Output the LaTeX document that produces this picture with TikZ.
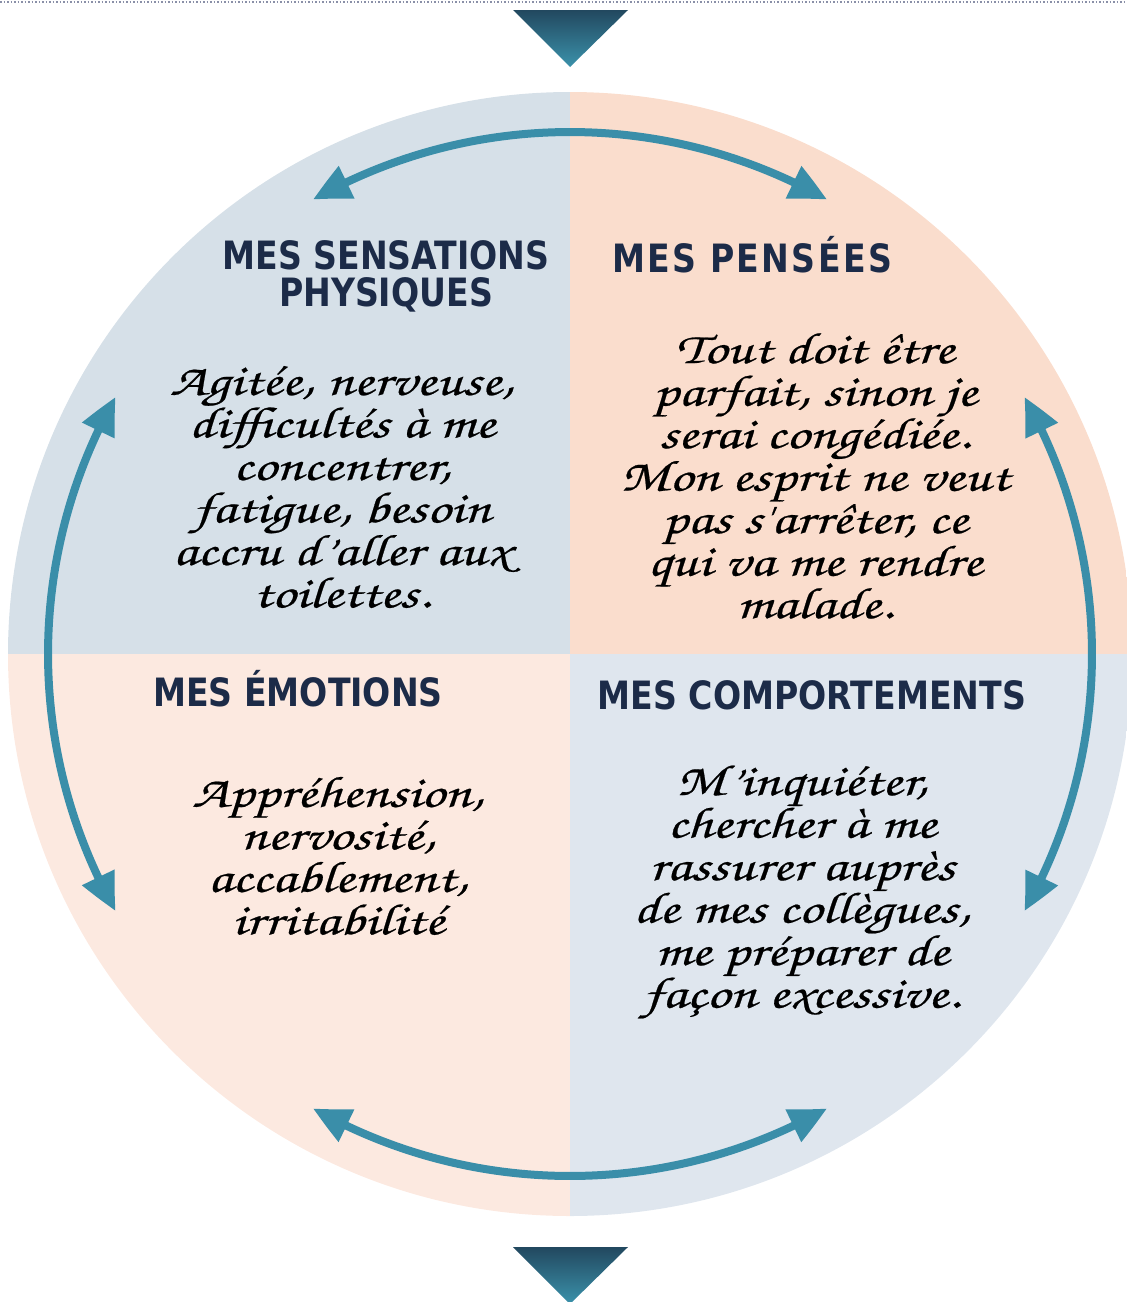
\documentclass[tikz,border=0pt]{standalone}
\usepackage{fontspec}
\usetikzlibrary{arrows.meta,bending,calc}
\newfontfamily\headfont[FakeStretch=0.85]{DejaVu Sans}
\newfontfamily\scr[FakeStretch=1.32,FakeBold=0.5]{texgyrechorus-mediumitalic.otf}
\definecolor{qtl}{HTML}{D6E0E8}
\definecolor{qtr}{HTML}{FADDCD}
\definecolor{qbl}{HTML}{FCE9E0}
\definecolor{qbr}{HTML}{DFE6EE}
\definecolor{arrc}{HTML}{3A8EA9}
\definecolor{headc}{HTML}{1C2B48}
\definecolor{tridark}{HTML}{22485F}
\definecolor{trilight}{HTML}{3B92AB}
\definecolor{dotc}{HTML}{8A90A8}
\tikzset{
  heading/.style={font=\headfont\bfseries\fontsize{39}{39}\selectfont, text=headc, align=center, inner sep=0pt},
  body/.style={font=\scr\fontsize{44}{42.5}\selectfont, text=black, align=center, inner sep=0pt},
  cycarrow/.style={draw=arrc, line width=8pt, {Triangle[length=38pt,width=34pt,bend]}-{Triangle[length=38pt,width=34pt,bend]}},
  tri/.style={top color=tridark, bottom color=trilight}
}
\begin{document}
\begin{tikzpicture}[x=1pt,y=-1pt]
\useasboundingbox (0,0) rectangle (1127,1302);
\coordinate (c) at (570,654);
% dotted top line
\draw[dotc, line width=1.2pt, dash pattern=on 1.5pt off 2pt] (0,2) -- (1127,2);
% quadrants
\begin{scope}
  \clip (0,0) rectangle (1127,1302);
  \clip (c) circle[radius=562];
  \fill[qtl] (0,0) rectangle (c);
  \fill[qtr] (570,0) rectangle (1200,654);
  \fill[qbl] (0,654) rectangle (570,1302);
  \fill[qbr] (570,654) rectangle (1200,1302);
\end{scope}
% triangles
\shade[tri] (513,10) -- (628,10) -- (570,67) -- cycle;
\shade[tri] (513,1247) -- (628,1247) -- (570,1304) -- cycle;
% arrows
\coordinate (a1) at ($(c)+(-119.5:522)$);
\coordinate (a3) at ($(c)+(-29.5:522)$);
\coordinate (a5) at ($(c)+(60.5:522)$);
\coordinate (a7) at ($(c)+(150.5:522)$);
\draw[cycarrow] (a1) arc[start angle=-119.5, end angle=-60.5, radius=522];
\draw[cycarrow] (a3) arc[start angle=-29.5, end angle=29.5, radius=522];
\draw[cycarrow] (a5) arc[start angle=60.5, end angle=119.5, radius=522];
\draw[cycarrow] (a7) arc[start angle=150.5, end angle=209.5, radius=522];
% headings
\node[heading] (h1) at (386,276) {MES SENSATIONS\\[-2pt]PHYSIQUES};
\node[heading, anchor=base] (h2) at (752,272) {\addfontfeature{LetterSpace=6}MES PENSÉES};
\node[heading, anchor=base] (h3) at (298,706) {MES ÉMOTIONS};
\node[heading, anchor=base] (h4) at (812,709) {MES COMPORTEMENTS};
% bodies
\node[body] (b1) at (342,487) {Agitée, nerveuse,\\difficultés à me\\concentrer,\\fatigue, besoin\\accru d’aller aux\\toilettes.};
\node[body] (b2) at (815,476) {Tout doit être\\parfait, sinon je\\serai congédiée.\\Mon esprit ne veut\\pas s'arrêter, ce\\qui va me rendre\\malade.};
\node[body] (b3) at (338,856) {Appréhension,\\nervosité,\\accablement,\\irritabilité};
\node[body] (b4) at (802,892) {M’inquiéter,\\chercher à me\\rassurer auprès\\de mes collègues,\\me préparer de\\façon excessive.};
\end{tikzpicture}
\end{document}
